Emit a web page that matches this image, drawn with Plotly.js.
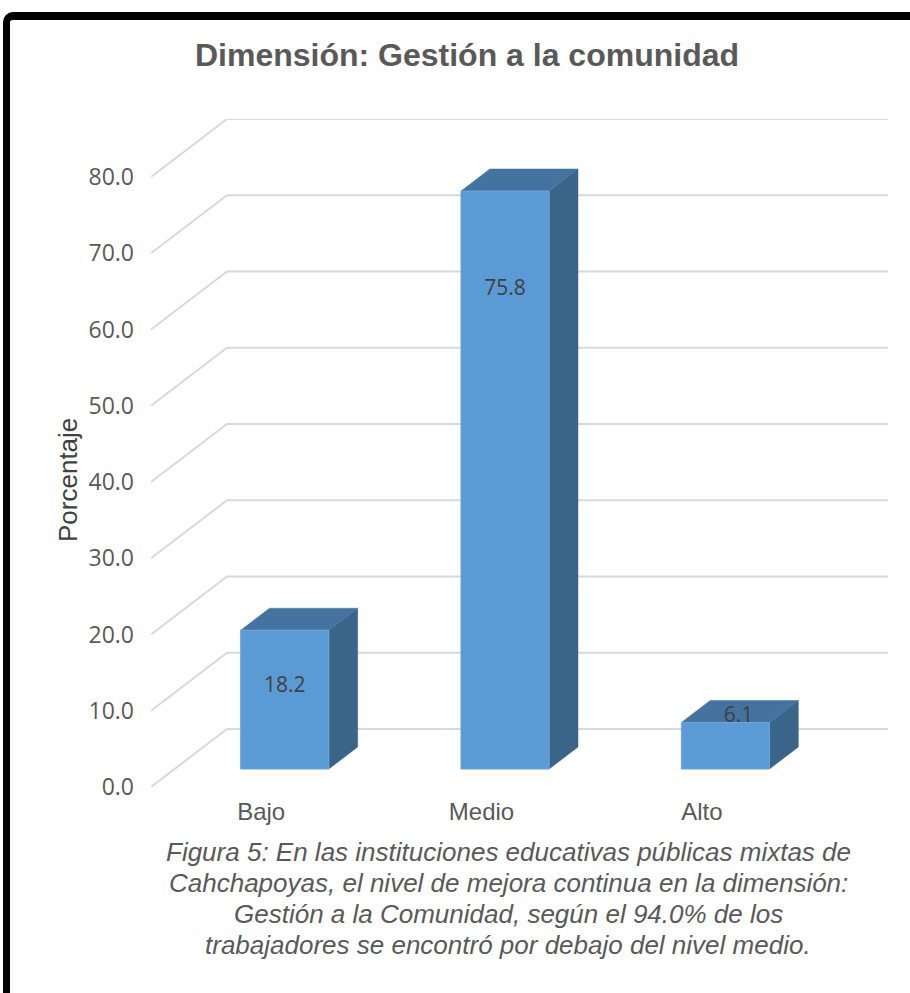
<!DOCTYPE html>
<html>
<head>
<meta charset="utf-8">
<script src="https://cdn.plot.ly/plotly-3.0.1.min.js"></script>
<style>
  html, body { margin: 0; padding: 0; background: #fff; overflow: hidden; }
  #wrap { position: relative; width: 910px; height: 993px; }
  #chart { position: absolute; left: 0; top: 0; width: 910px; height: 993px; }
  #frame { position: absolute; left: 3px; top: 12px; width: 920px; height: 1000px;
           border-top: 8px solid #000; border-left: 7px solid #000;
           border-top-left-radius: 10px; pointer-events: none; box-sizing: border-box; }
</style>
</head>
<body>
<div id="wrap">
  <div id="chart"></div>
  <div id="frame"></div>
</div>
<script>
// ---- data ----
const categories = ["Bajo", "Medio", "Alto"];
const values = [18.2, 75.8, 6.1];
const valueLabels = ["18.2", "75.8", "6.1"];
const yTicks = [0, 10, 20, 30, 40, 50, 60, 70, 80];
const yTickText = ["0.0", "10.0", "20.0", "30.0", "40.0", "50.0", "60.0", "70.0", "80.0"];
const chartTitle = "Dimensión: Gestión a la comunidad";
const yTitle = "Porcentaje";
const captionLines = [
  "Figura 5: En las instituciones educativas públicas mixtas de",
  "Cahchapoyas, el nivel de mejora continua en la dimensión:",
  "Gestión a la Comunidad, según el 94.0% de los",
  "trabajadores se encontró por debajo del nivel medio."
];

// ---- 3D projection style ----
const DX = 0.345;   // depth offset in category units
const DY = 7.6;     // depth offset in value units
const F1 = 0.31, F2 = 0.69; // bar depth span (fraction of floor depth)
const HALF = 0.2;   // bar half width
const labelFrac = [0.59, 0.83, 1.13];
const yMax = 80;

const traces = [];
const gridColor = "#D9D9D9";
// gridlines: side wall diagonal + back wall
yTicks.forEach(v => {
  traces.push({
    type: "scatter", mode: "lines", hoverinfo: "skip", showlegend: false,
    x: [-0.5, -0.5 + DX, categories.length - 0.5 + DX],
    y: [v, v + DY, v + DY],
    line: { color: gridColor, width: 2 }
  });
});

const frontColor = "#5B9BD5", topColor = "#44739F", sideColor = "#3A6589";
values.forEach((v, i) => {
  const xl1 = i - HALF + F1 * DX, xr1 = i + HALF + F1 * DX;
  const xl2 = i - HALF + F2 * DX, xr2 = i + HALF + F2 * DX;
  const b1 = F1 * DY, b2 = F2 * DY;
  // side
  traces.push({ type: "scatter", mode: "lines", fill: "toself", hoverinfo: "skip", showlegend: false,
    x: [xr1, xr2, xr2, xr1, xr1], y: [b1, b2, v + b2, v + b1, b1],
    fillcolor: sideColor, line: { color: sideColor, width: 0.5 } });
  // top
  traces.push({ type: "scatter", mode: "lines", fill: "toself", hoverinfo: "skip", showlegend: false,
    x: [xl1, xr1, xr2, xl2, xl1], y: [v + b1, v + b1, v + b2, v + b2, v + b1],
    fillcolor: topColor, line: { color: topColor, width: 0.5 } });
  // front
  traces.push({ type: "scatter", mode: "lines", fill: "toself", hoverinfo: "skip", showlegend: false,
    x: [xl1, xr1, xr1, xl1, xl1], y: [b1, b1, v + b1, v + b1, b1],
    fillcolor: frontColor, line: { color: "#6FA6DA", width: 1 } });
});

// value labels
traces.push({
  type: "scatter", mode: "text", hoverinfo: "skip", showlegend: false,
  x: values.map((v, i) => i + F1 * DX + (i === 2 ? 0.06 : 0)),
  y: values.map((v, i) => F1 * DY + labelFrac[i] * v),
  text: valueLabels,
  textposition: "middle center",
  textfont: { family: "Open Sans", size: 21, color: "#404040" }
});

const L = 151, R = 22, T = 119, B = 206;
const plotW = 910 - L - R, plotH = 993 - T - B;
const annotations = [
  { text: yTitle, xref: "paper", yref: "paper", showarrow: false,
    x: (68 - L) / plotW, y: (787 - 480) / plotH, xanchor: "center", yanchor: "middle",
    textangle: -90, font: { family: "Liberation Sans, Arial", size: 26, color: "#404040" } }
];
const capY0 = 852, capStep = 31;
captionLines.forEach((t, k) => {
  annotations.push({ text: "<i>" + t + "</i>", xref: "paper", yref: "paper", showarrow: false,
    x: (508 - L) / plotW, y: (787 - (capY0 + k * capStep)) / plotH,
    xanchor: "center", yanchor: "middle", align: "center",
    font: { family: "Liberation Sans, Arial", size: 26, color: "#595959" } });
});

const layout = {
  width: 910, height: 993,
  margin: { l: L, r: R, t: T, b: B },
  paper_bgcolor: "#fff", plot_bgcolor: "rgba(0,0,0,0)",
  showlegend: false,
  title: {
    text: "<b>" + chartTitle + "</b>",
    x: 467 / 910, xanchor: "center", xref: "container",
    y: 1 - 55 / 993, yanchor: "middle", yref: "container",
    font: { family: "Liberation Sans, Arial", size: 32, color: "#595959" }
  },
  xaxis: {
    range: [-0.5, categories.length - 0.5 + DX],
    tickvals: categories.map((c, i) => i), ticktext: categories,
    showgrid: false, zeroline: false, showline: false, ticks: "",
    ticklabelstandoff: 8,
    tickfont: { family: "Liberation Sans, Arial", size: 24, color: "#595959" },
    fixedrange: true
  },
  yaxis: {
    range: [0, yMax + DY],
    tickvals: yTicks, ticktext: yTickText,
    showgrid: false, zeroline: false, showline: false, ticks: "",
    ticklabelstandoff: 16,
    tickfont: { family: "Open Sans", size: 23, color: "#595959" },
    fixedrange: true
  },
  annotations: annotations
};

Plotly.newPlot("chart", traces, layout, { displayModeBar: false, staticPlot: true });
</script>
</body>
</html>
